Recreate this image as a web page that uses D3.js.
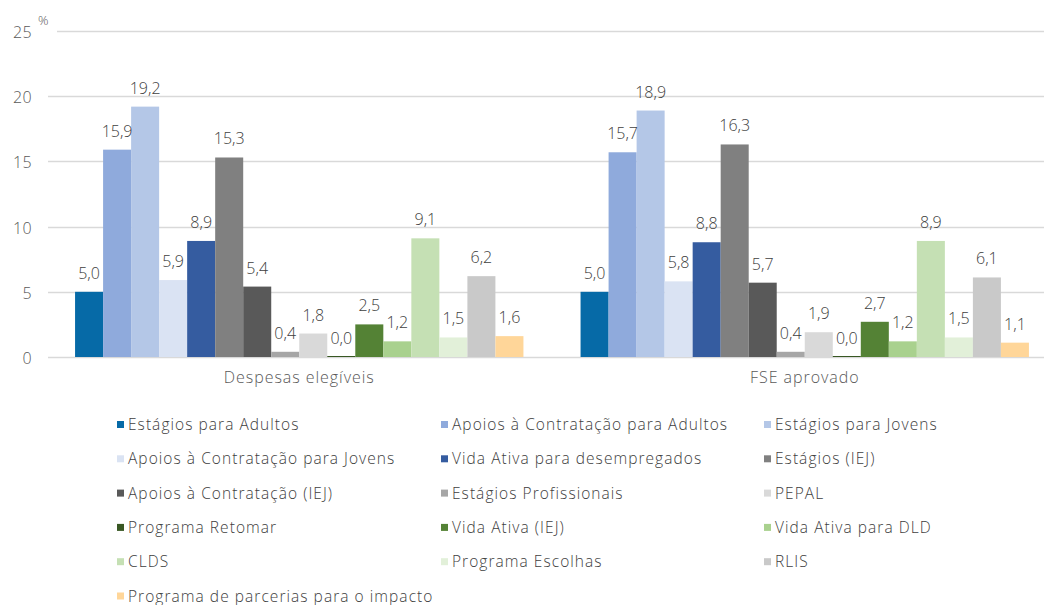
<!DOCTYPE html>
<html>
<head>
<meta charset="utf-8">
<script src="https://cdn.jsdelivr.net/npm/d3@7"></script>
<style>
  html, body { margin: 0; padding: 0; background: #fff; }
  svg { display: block; font-family: "Open Sans", "Noto Sans", sans-serif; }
</style>
</head>
<body>
<svg id="chart" width="1044" height="605"></svg>
<script>
const categories = ["Despesas elegíveis", "FSE aprovado"];
const seriesNames = [
  "Estágios para Adultos",
  "Apoios à Contratação para Adultos",
  "Estágios para Jovens",
  "Apoios à Contratação para Jovens",
  "Vida Ativa para desempregados",
  "Estágios (IEJ)",
  "Apoios à Contratação (IEJ)",
  "Estágios Profissionais",
  "PEPAL",
  "Programa Retomar",
  "Vida Ativa (IEJ)",
  "Vida Ativa para DLD",
  "CLDS",
  "Programa Escolhas",
  "RLIS",
  "Programa de parcerias para o impacto"
];
const despesasElegiveis = [5.0, 15.9, 19.2, 5.9, 8.9, 15.3, 5.4, 0.4, 1.8, 0.0, 2.5, 1.2, 9.1, 1.5, 6.2, 1.6];
const fseAprovado      = [5.0, 15.7, 18.9, 5.8, 8.8, 16.3, 5.7, 0.4, 1.9, 0.0, 2.7, 1.2, 8.9, 1.5, 6.1, 1.1];
const seriesColors = [
  "#066AA7", "#8FAADC", "#B4C7E7", "#DAE3F3", "#355CA0", "#808080", "#595959", "#A6A6A6",
  "#D9D9D9", "#385723", "#548235", "#A9D18E", "#C5E0B4", "#E2F0D9", "#C9C9C9", "#FFD699"
];
const yTicks = [0, 5, 10, 15, 20, 25];

const values = [despesasElegiveis, fseAprovado];

const svg = d3.select("#chart");
const fmt = v => d3.format(".1f")(v).replace(".", ",");

const y = d3.scaleLinear().domain([0, 25]).range([357, 31]);
const x0 = d3.scaleBand().domain(categories).range([46.5, 1057.5])
  .paddingInner(0.113).paddingOuter(0.0565);
const x1 = d3.scaleBand().domain(seriesNames).range([0, x0.bandwidth()]).padding(0);

// gridlines
const grid = svg.append("g");
grid.selectAll("line").data(yTicks).join("line")
  .attr("x1", d => d === 25 ? 57 : 48)
  .attr("x2", 1044)
  .attr("y1", d => Math.round(y(d)) + 0.5)
  .attr("y2", d => Math.round(y(d)) + 0.5)
  .attr("stroke", "#D9D9D9")
  .attr("stroke-width", 1.5);

// y axis labels
const yAxis = d3.axisLeft(y).tickValues(yTicks).tickSize(0).tickPadding(0);
const ya = svg.append("g").attr("transform", "translate(32,0)").call(yAxis);
ya.select(".domain").remove();
ya.selectAll("text")
  .attr("font-family", "'Open Sans', sans-serif")
  .attr("font-weight", 300)
  .attr("font-size", 16)
  .attr("letter-spacing", 0.4)
  .attr("fill", "#595959")
  .attr("dy", "0.4em");

svg.append("text").attr("x", 38).attr("y", 25)
  .attr("font-size", 13).attr("font-weight", 300).attr("fill", "#595959").text("%");

// bars
const groups = svg.append("g").selectAll("g").data(categories).join("g")
  .attr("transform", d => `translate(${x0(d)},0)`);

groups.each(function(cat, ci) {
  const g = d3.select(this);
  const data = seriesNames.map((s, i) => ({ s, i, v: values[ci][i] }));
  g.selectAll("rect").data(data).join("rect")
    .attr("x", d => x1(d.s))
    .attr("width", x1.bandwidth())
    .attr("y", d => y(d.v) - (d.v === 0 ? 1 : 0))
    .attr("height", d => y(0) - y(d.v) + (d.v === 0 ? 1 : 0))
    .attr("fill", d => seriesColors[d.i]);
  g.selectAll("text").data(data).join("text")
    .attr("x", d => x1(d.s) + x1.bandwidth() / 2)
    .attr("y", d => y(d.v) - 13)
    .attr("text-anchor", "middle")
    .attr("font-size", 16)
    .attr("font-weight", 300)
    .attr("fill", "#404040")
    .text(d => fmt(d.v));
});

// category labels
const xAxis = d3.axisBottom(x0).tickSize(0).tickPadding(0);
const xa = svg.append("g").attr("transform", "translate(0,357)").call(xAxis);
xa.select(".domain").remove();
xa.selectAll("text")
  .attr("font-family", "'Open Sans', sans-serif")
  .attr("font-size", 16)
  .attr("font-weight", 300)
  .attr("letter-spacing", 0.95)
  .attr("fill", "#595959")
  .attr("dy", null)
  .attr("y", 26);

// legend
const colX = [117, 441, 764];
const legend = svg.append("g").selectAll("g").data(seriesNames).join("g")
  .attr("transform", (d, i) => `translate(${colX[i % 3]},${430 + Math.floor(i / 3) * 34.3})`);
legend.append("rect")
  .attr("x", 0).attr("y", -9).attr("width", 7).attr("height", 7)
  .attr("fill", (d, i) => seriesColors[i]);
legend.append("text")
  .attr("x", 11).attr("y", 0)
  .attr("font-size", 15.5)
  .attr("font-weight", 300)
  .attr("letter-spacing", 1.05)
  .attr("fill", "#404040")
  .text(d => d);
</script>
</body>
</html>
